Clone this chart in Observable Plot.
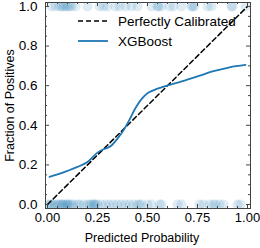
<!DOCTYPE html>
<html>
<head>
<meta charset="utf-8">
<script src="https://cdn.jsdelivr.net/npm/d3@7"></script>
<script src="https://cdn.jsdelivr.net/npm/@observablehq/plot@0.6"></script>
<style>
  html, body { margin: 0; padding: 0; background: #fff; }
  #wrap { position: relative; width: 260px; height: 248px; font-family: "Liberation Sans", Arial, Helvetica, sans-serif; }
  #legend { position: absolute; left: 78px; top: 11px; font-size: 13.5px; color: #000; }
  #legend .row { display: flex; align-items: center; height: 20px; }
  #legend svg { margin-right: 10px; }
</style>
</head>
<body>
<div id="wrap"></div>
<script>
// Reliability curve (XGBoost)
const curveX = [0.01, 0.05, 0.10, 0.15, 0.20, 0.25, 0.28, 0.30, 0.32, 0.35, 0.38, 0.41, 0.44, 0.47, 0.50, 0.55, 0.60, 0.66, 0.75, 0.83, 0.91, 0.99];
const curveY = [0.14, 0.152, 0.170, 0.19, 0.215, 0.262, 0.279, 0.286, 0.298, 0.333, 0.375, 0.428, 0.487, 0.532, 0.562, 0.585, 0.601, 0.618, 0.647, 0.673, 0.693, 0.705];
// Perfect calibration diagonal
const diagX = [0, 1];
const diagY = [0, 1];
// Predicted probabilities of negatives (y = 0) and positives (y = 1)
const negPred = [0.0, 0.01, 0.02, 0.03, 0.04, 0.05, 0.06, 0.07, 0.075, 0.08, 0.09, 0.10, 0.10, 0.11, 0.12, 0.13, 0.15, 0.16, 0.18, 0.20, 0.21, 0.22, 0.23, 0.235, 0.24, 0.25, 0.27, 0.29, 0.31, 0.33, 0.35, 0.37, 0.39, 0.41, 0.43, 0.45, 0.46, 0.47, 0.50, 0.52, 0.56, 0.57, 0.65, 0.67, 0.76, 0.78, 0.81, 0.83, 0.84, 0.86, 0.88, 0.95, 0.965];
const posPred = [0.02, 0.04, 0.06, 0.07, 0.08, 0.09, 0.10, 0.11, 0.12, 0.14, 0.20, 0.26, 0.28, 0.30, 0.34, 0.36, 0.39, 0.42, 0.45, 0.52, 0.55, 0.555, 0.57, 0.61, 0.63, 0.67, 0.72, 0.725, 0.735, 0.80, 0.82, 0.92, 0.925, 0.99];
// Ticks
const xMajor = [0, 0.25, 0.5, 0.75, 1.0];
const xMinor = d3.range(0, 1.0001, 0.05).map(v => +v.toFixed(2)).filter(v => !xMajor.includes(v));
const yMajor = [0, 0.2, 0.4, 0.6, 0.8, 1.0];
const yMinor = d3.range(0, 1.0001, 0.05).map(v => +v.toFixed(2)).filter(v => !yMajor.some(m => Math.abs(m - v) < 1e-9));

const labels = { series: ["Perfectly Calibrated", "XGBoost"], x: "Predicted Probability", y: "Fraction of Positives" };

const blue = "#1f77b4";
const W = 260, H = 248, mL = 45, mR = 10, mT = 2, mB = 40;
const iw = W - mL - mR, ih = H - mT - mB;
const maj = 4, mnr = 2;
const axisColor = "#444";

const rugs = [
  ...negPred.map(p => ({p, y: 0})),
  ...posPred.map(p => ({p, y: 1}))
];
const curve = curveX.map((x, i) => ({x, y: curveY[i]}));
const diag = diagX.map((x, i) => ({x, y: diagY[i]}));

const chart = Plot.plot({
  width: W, height: H,
  marginLeft: mL, marginRight: mR, marginTop: mT, marginBottom: mB,
  style: { fontFamily: '"Liberation Sans", Arial, Helvetica, sans-serif', fontSize: "12px", color: "#000", background: "#fff" },
  x: { domain: [-0.01, 1.015] },
  y: { domain: [-0.02, 1.02] },
  marks: [
    Plot.dot(rugs, { x: "p", y: "y", r: 5, fill: blue, fillOpacity: 0.14, stroke: null, clip: true }),
    Plot.line(diag, { x: "x", y: "y", stroke: "#000", strokeWidth: 1.5, strokeDasharray: "5,3" }),
    Plot.line(curve, { x: "x", y: "y", stroke: blue, strokeWidth: 1.8, curve: "catmull-rom" }),
    Plot.frame({ stroke: axisColor, strokeWidth: 1 }),
    // inward ticks, all four sides
    Plot.tickX(xMajor, { x: d => d, insetTop: ih - maj, stroke: axisColor }),
    Plot.tickX(xMajor, { x: d => d, insetBottom: ih - maj, stroke: axisColor }),
    Plot.tickX(xMinor, { x: d => d, insetTop: ih - mnr, stroke: axisColor }),
    Plot.tickX(xMinor, { x: d => d, insetBottom: ih - mnr, stroke: axisColor }),
    Plot.tickY(yMajor, { y: d => d, insetRight: iw - maj, stroke: axisColor }),
    Plot.tickY(yMajor, { y: d => d, insetLeft: iw - maj, stroke: axisColor }),
    Plot.tickY(yMinor, { y: d => d, insetRight: iw - mnr, stroke: axisColor }),
    Plot.tickY(yMinor, { y: d => d, insetLeft: iw - mnr, stroke: axisColor }),
    Plot.axisX(xMajor, { tickSize: 0, tickPadding: 4, tickFormat: d3.format(".2f"), label: null, fontSize: 13 }),
    Plot.axisY(yMajor, { tickSize: 0, tickPadding: 8, tickFormat: d3.format(".1f"), label: null, fontSize: 13.5 }),
    Plot.text([labels.x], { frameAnchor: "bottom", dy: 33, dx: -6, fontSize: 12.5, fill: "#000" }),
    Plot.text([labels.y], { frameAnchor: "left", dx: -36, rotate: -90, textAnchor: "middle", fontSize: 12.5, fill: "#000" })
  ]
});

const wrap = document.getElementById("wrap");
wrap.appendChild(chart);

const legend = document.createElement("div");
legend.id = "legend";
const sw = [
  `<svg width="30" height="4"><line x1="0" y1="2" x2="30" y2="2" stroke="#000" stroke-width="1.5" stroke-dasharray="5,3"/></svg>`,
  `<svg width="30" height="4"><line x1="0" y1="2" x2="30" y2="2" stroke="${blue}" stroke-width="1.8"/></svg>`
];
legend.innerHTML = labels.series.map((s, i) => `<div class="row">${sw[i]}<span>${s}</span></div>`).join("");
wrap.appendChild(legend);
</script>
</body>
</html>
